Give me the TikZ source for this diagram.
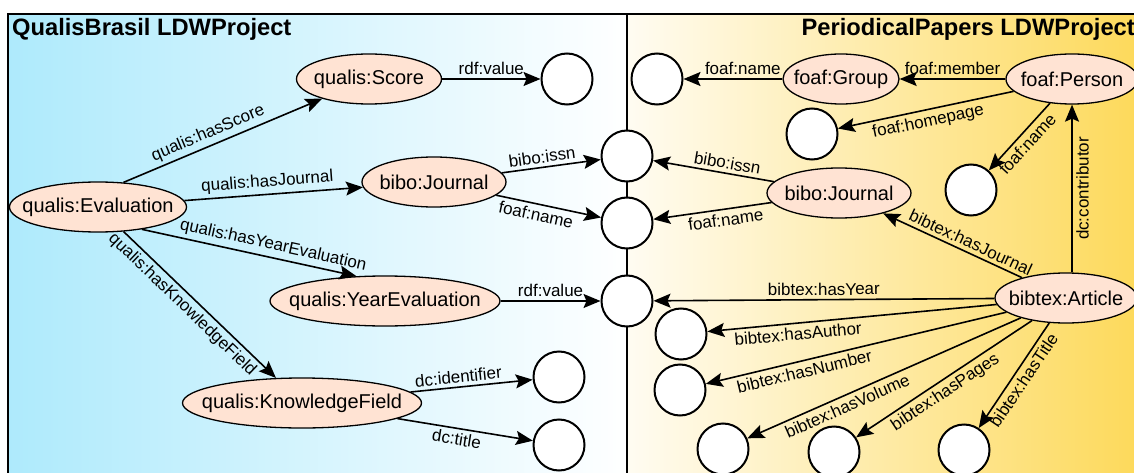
\documentclass[tikz,border=0pt]{standalone}
\usepackage{fontspec}
\setmainfont{Liberation Sans}
\usetikzlibrary{arrows.meta,shapes.geometric}
\definecolor{qualisbg}{HTML}{AEEAFC}
\definecolor{paperlight}{HTML}{FFFCF2}
\definecolor{paperbg}{HTML}{FDD95A}
\definecolor{classfill}{HTML}{FFE3D3}
\def\nb#1{\makebox[0pt]{#1}}
\tikzset{
	cls/.style={ellipse, draw, line width=1.3pt, fill=classfill, minimum height=50pt, inner sep=0pt, font=\fontsize{20}{24}\selectfont},
	lit/.style={circle, draw, line width=2pt, fill=white, minimum size=51pt, inner sep=0pt},
	rel/.style={line width=1.6pt, -{Stealth[length=17pt,width=14pt,inset=3pt]}},
	lab/.style={sloped, font=\fontsize{17}{20}\selectfont, inner sep=3.5pt},
	ttl/.style={inner sep=0pt, font=\fontsize{23.7}{28}\selectfont\bfseries}
}

\begin{document}
\begin{tikzpicture}[x=1pt, y=-1pt]
			%%%%% START %%%%%
			\useasboundingbox (0,0) rectangle (1134,473);
			\clip (0,0) rectangle (1134,473);
			
			\shade[left color=qualisbg, right color=white] (8,14) rectangle (627,480);
			\shade[left color=paperlight, right color=paperbg] (627,14) rectangle (1140,480);
			\draw[line width=1.2pt] (8,14) rectangle (1140,480);
			\draw[line width=2pt] (627,14) -- (627,480);
			
			\node[ttl, anchor=base west] (qtitle) at (12,36) {QualisBrasil LDWProject};
			\node[ttl, anchor=base east] (ptitle) at (1135,36) {PeriodicalPapers LDWProject};
			
			%%%%% QUALIS %%%%%
			\node[cls, minimum width=177pt] (eval) at (98,207) {\nb{qualis:Evaluation}};
			\node[cls, minimum width=145pt] (score) at (369,79) {\nb{qualis:Score}};
			\node[cls, minimum width=144pt] (jourq) at (434,182) {\nb{bibo:Journal}};
			\node[cls, minimum width=230pt] (yearev) at (385,301) {\nb{qualis:YearEvaluation}};
			\node[cls, minimum width=239pt] (kfield) at (302,403) {\nb{qualis:KnowledgeField}};
			
			\node[lit] (scoreval) at (567,79) {};
			\node[lit] (kident) at (559,377) {};
			\node[lit] (ktitle) at (559,445) {};
			
			%%%%% SHARED %%%%%
			\node[lit] (issn) at (627,156) {};
			\node[lit] (jname) at (627,223) {};
			\node[lit] (year) at (627,301) {};
			
			%%%%% PAPERS %%%%%
			\node[cls, minimum width=116pt] (group) at (841,79) {\nb{foaf:Group}};
			\node[cls, minimum width=132pt] (person) at (1072,79) {\nb{foaf:Person}};
			\node[cls, minimum width=144pt] (jourp) at (839,193) {\nb{bibo:Journal}};
			\node[cls, minimum width=142pt] (article) at (1066,298) {\nb{bibtex:Article}};
			
			\node[lit] (gname) at (657,79) {};
			\node[lit] (homepage) at (812,134) {};
			\node[lit] (pname) at (971,190) {};
			\node[lit] (author) at (681,334) {};
			\node[lit] (number) at (680,390) {};
			\node[lit] (volume) at (723,449) {};
			\node[lit] (pages) at (834,452) {};
			\node[lit] (btitle) at (964,450) {};
			
			%%%%% EDGES %%%%%
			\draw[rel] (eval.44) -- node[lab, above, pos=0.45] {qualis:hasScore} (score);
			\draw[rel] (eval) -- node[lab, above, pos=0.47] {qualis:hasJournal} (jourq);
			\draw[rel] (eval.-27) -- node[lab, above, pos=0.6] {qualis:hasYearEvaluation} (yearev.139);
			\draw[rel] (eval) -- node[lab, below, pos=0.44] {qualis:hasKnowledgeField} (kfield);
			\draw[rel] (score) -- node[lab, above] {rdf:value} (scoreval);
			\draw[rel] (jourq) -- node[lab, above, pos=0.42] {bibo:issn} (issn);
			\draw[rel] (jourq) -- node[lab, below, pos=0.4] {foaf:name} (jname);
			\draw[rel] (yearev) -- node[lab, above] {rdf:value} (year);
			\draw[rel] (kfield) -- node[lab, above, pos=0.4] {dc:identifier} (kident);
			\draw[rel] (kfield) -- node[lab, below, pos=0.45] {dc:title} (ktitle);
			
			\draw[rel] (group) -- node[lab, above, pos=0.4] {foaf:name} (gname);
			\draw[rel] (person) -- node[lab, above] {foaf:member} (group);
			\draw[rel] (person) -- node[lab, below] {foaf:homepage} (homepage);
			\draw[rel] (person) -- node[lab, below] {foaf:name} (pname);
			\draw[rel] (article.north -| person) -- node[lab, below] {dc:contributor} (person);
			\draw[rel] (article) -- node[lab, above, pos=0.4] {bibtex:hasJournal} (jourp);
			\draw[rel] (jourp) -- node[lab, above, pos=0.4] {bibo:issn} (issn);
			\draw[rel] (jourp) -- node[lab, below, pos=0.4] {foaf:name} (jname);
			\draw[rel] (article) -- node[lab, above] {bibtex:hasYear} (year);
			\draw[rel] (article) -- node[lab, below, pos=0.69] {bibtex:hasAuthor} (author);
			\draw[rel] (article) -- node[lab, below, pos=0.68] {bibtex:hasNumber} (number);
			\draw[rel] (article) -- node[lab, below, pos=0.65] {bibtex:hasVolume} (volume);
			\draw[rel] (article) -- node[lab, below, pos=0.53] {bibtex:hasPages} (pages);
			\draw[rel] (article) -- node[lab, below, pos=0.49] {bibtex:hasTitle} (btitle);
			%%%%% END %%%%%
\end{tikzpicture}
\end{document}
